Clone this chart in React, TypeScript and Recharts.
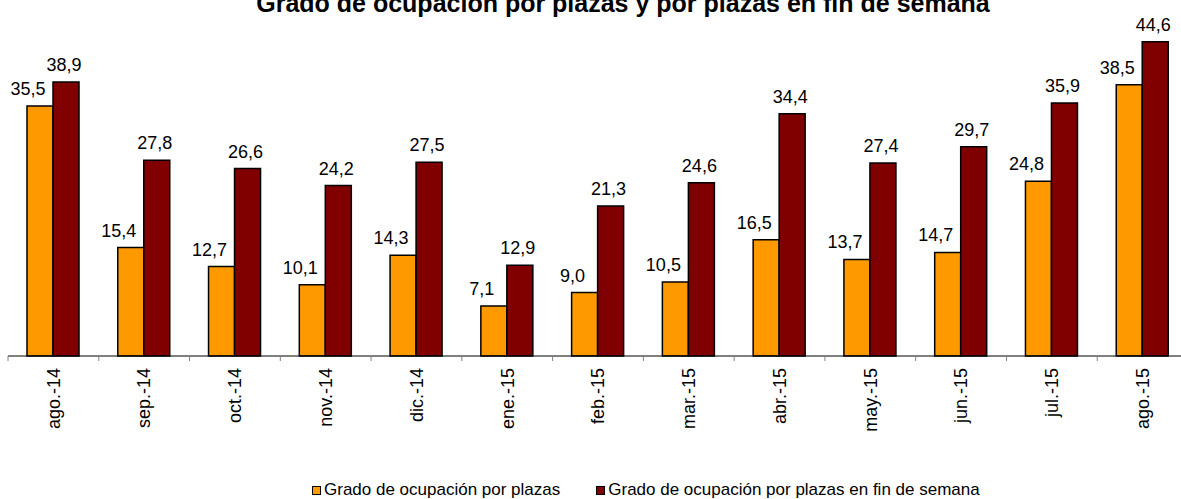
import React from "react";
import { BarChart, Bar, XAxis, YAxis, Legend, LabelList } from "recharts";

const months = [
  "ago.-14", "sep.-14", "oct.-14", "nov.-14", "dic.-14", "ene.-15", "feb.-15",
  "mar.-15", "abr.-15", "may.-15", "jun.-15", "jul.-15", "ago.-15",
];
const plazas = [35.5, 15.4, 12.7, 10.1, 14.3, 7.1, 9.0, 10.5, 16.5, 13.7, 14.7, 24.8, 38.5];
const finSemana = [38.9, 27.8, 26.6, 24.2, 27.5, 12.9, 21.3, 24.6, 34.4, 27.4, 29.7, 35.9, 44.6];

const SERIES = [
  { key: "plazas", name: "Grado de ocupación por plazas", color: "#FF9900", labelDx: -12 },
  { key: "finSemana", name: "Grado de ocupación por plazas en fin de semana", color: "#800000", labelDx: -2 },
];

const data = months.map((m, i) => ({ month: m, plazas: plazas[i], finSemana: finSemana[i] }));

const FONT = "Arial, 'Liberation Sans', sans-serif";
const W = 1200;
const H = 499;
const MARGIN = { top: 39, right: 12, bottom: 0, left: 8 };
const HALF_BAND = (W - MARGIN.left - MARGIN.right) / months.length / 2;

const fmt = (v: number) => v.toFixed(1).replace(".", ",");

const MonthTick = ({ x, y, payload }: any) => {
  // ticks sit between categories, Excel style
  return (
    <g>
      <line x1={x - HALF_BAND} x2={x - HALF_BAND} y1={y - 7} y2={y - 2} stroke="#808080" />
      <g transform={`translate(${x},${y})`}>
        <text
          transform="rotate(-90)"
          x={-5}
          dy="0.35em"
          textAnchor="end"
          fontSize={18}
          fontFamily={FONT}
          fill="#000"
        >
          {payload.value}
        </text>
      </g>
    </g>
  );
};

const makeLabel = (dx: number) => (props: any) => {
  const { x, y, width, value } = props;
  return (
    <text
      x={x + width / 2 + dx}
      y={y - 11}
      textAnchor="middle"
      fontSize={18}
      fontFamily={FONT}
      fill="#000"
    >
      {fmt(value)}
    </text>
  );
};

const LegendContent = () => (
  <div style={{ display: "flex", alignItems: "center", paddingLeft: 312, height: 20, fontFamily: FONT, fontSize: 17, color: "#000" }}>
    {SERIES.map((s, i) => (
      <div key={s.key} style={{ display: "flex", alignItems: "center", marginRight: i === 0 ? 36 : 0 }}>
        <span style={{ width: 7, height: 7, background: s.color, border: "1px solid #000", marginRight: 3, display: "inline-block" }} />
        <span style={{ whiteSpace: "nowrap" }}>{s.name}</span>
      </div>
    ))}
  </div>
);

export default function App() {
  return (
    <div style={{ position: "absolute", top: 0, left: 0, width: 1181, height: 499, overflow: "hidden", background: "#fff" }}>
      <BarChart width={W} height={H} data={data} margin={MARGIN} barCategoryGap={19} barGap={0}>
        <text x={623} y={12} textAnchor="middle" fontSize={25} fontWeight="bold" fontFamily={FONT} fill="#000">
          Grado de ocupación por plazas y por plazas en fin de semana
        </text>
        <XAxis
          dataKey="month"
          interval={0}
          height={123}
          tickSize={5}
          tickMargin={2}
          tickLine={false}
          axisLine={{ stroke: "#000" }}
          tick={<MonthTick />}
        />
        <YAxis hide domain={[0, 45]} />
        <Legend
          verticalAlign="bottom"
          content={<LegendContent />}
          wrapperStyle={{ top: 480, left: 0, width: 1181, height: 20 }}
        />
        {SERIES.map(s => (
          <Bar
            key={s.key}
            dataKey={s.key}
            name={s.name}
            fill={s.color}
            stroke="#000"
            strokeWidth={1.5}
            isAnimationActive={false}
          >
            <LabelList dataKey={s.key} content={makeLabel(s.labelDx)} />
          </Bar>
        ))}
      </BarChart>
    </div>
  );
}
